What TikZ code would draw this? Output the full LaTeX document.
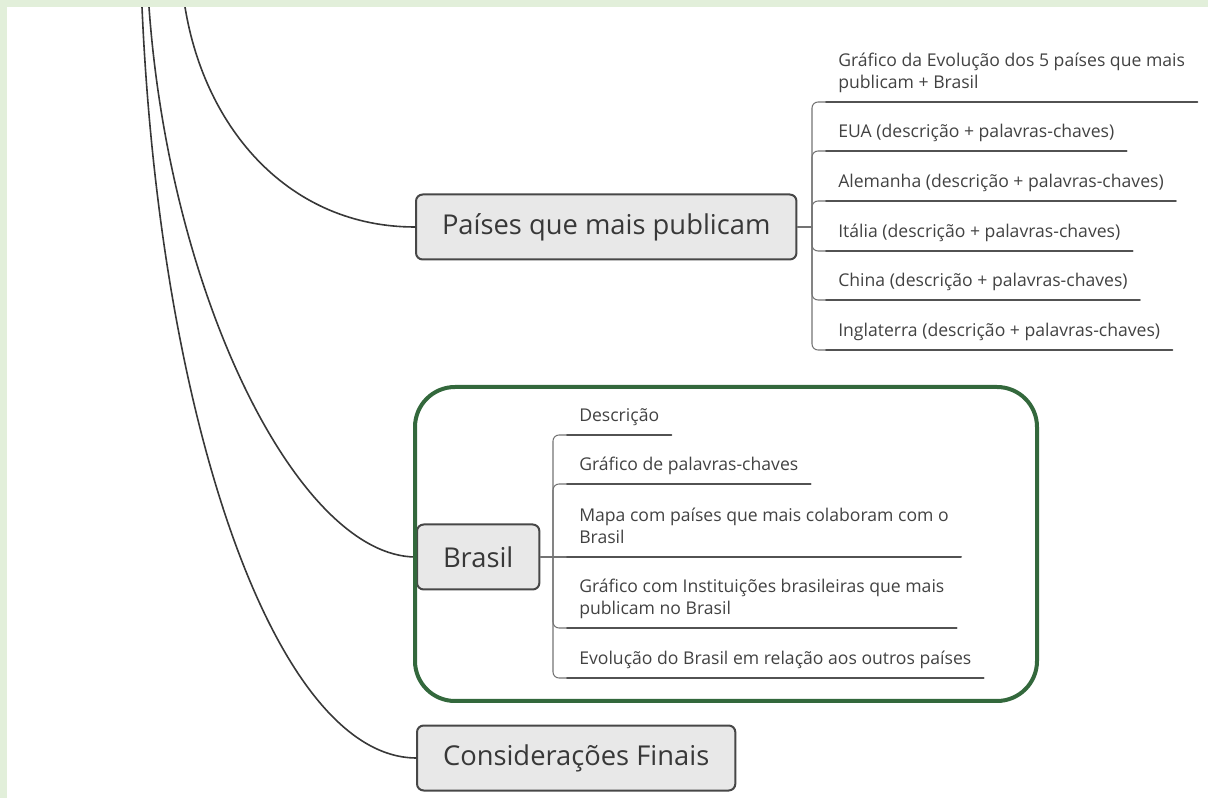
\documentclass[tikz,border=0pt]{standalone}
\usepackage{fontspec}
\setmainfont{Open Sans}
\usepackage{tikz}

\definecolor{margem}{HTML}{E2EFDA}
\definecolor{verde}{HTML}{33683C}
\definecolor{cinza}{HTML}{E8E8E8}
\definecolor{tinta}{HTML}{383838}

\begin{document}
\begin{tikzpicture}[x=0.75pt, y=-0.75pt, line cap=round]

\tikzstyle{topic}=[anchor=west, draw=black!72, line width=1.5pt, fill=cinza, rounded corners=5pt, minimum height=48.75pt, inner xsep=19.5pt, text=tinta, font=\fontsize{20.5}{24}\selectfont]
\tikzstyle{leaf}=[anchor=south west, inner xsep=9pt, inner ysep=5.2pt, align=left, text=tinta!95, font=\fontsize{13.2}{16.5}\selectfont, execute at end node=\strut]
\tikzstyle{uline}=[draw=black!68, line width=1.5pt]
\tikzstyle{link}=[draw=black!55, line width=0.8pt, rounded corners=4.5pt]
\tikzstyle{curve}=[draw=black!78, line width=1.2pt]

\useasboundingbox (0,0) rectangle (1208,798);

\draw (415,227) node[topic] (pais) {Países que mais publicam}
      (416,557) node[topic] (bras) {Brasil}
      (416,758) node[topic] (cons) {Considerações Finais};

\draw (826,102) node[leaf] (graf) {Gráfico da Evolução dos 5 países que mais\\publicam + Brasil}
      (826,151) node[leaf] (eua)  {EUA (descrição + palavras-chaves)}
      (826,201) node[leaf] (alem) {Alemanha (descrição + palavras-chaves)}
      (826,251) node[leaf] (ital) {Itália (descrição + palavras-chaves)}
      (826,300) node[leaf] (chin) {China (descrição + palavras-chaves)}
      (826,350) node[leaf] (ingl) {Inglaterra (descrição + palavras-chaves)};

\draw (567,435) node[leaf] (desc) {Descrição}
      (567,484) node[leaf] (gpal) {Gráfico de palavras-chaves}
      (567,557) node[leaf] (mapa) {Mapa com países que mais colaboram com o\\Brasil}
      (567,628) node[leaf] (inst) {Gráfico com Instituições brasileiras que mais\\publicam no Brasil}
      (567,678) node[leaf] (evol) {Evolução do Brasil em relação aos outros países};

\coordinate (pj) at (812,227);
\coordinate (bj) at (553,557);
\coordinate (rpai) at (185,7);
\coordinate (rbra) at (149,7);
\coordinate (rcon) at (142,7);

\draw[link] (pais.east) -- (pj);
\foreach \n in {graf,eua,alem,ital,chin,ingl}
  \draw[link] (pj) |- (\n.south west);
\draw[link] (bras.east) -- (mapa.south west);
\foreach \n in {desc,gpal,inst,evol}
  \draw[link] (bj) |- (\n.south west);
\foreach \n in {graf,eua,alem,ital,chin,ingl,desc,gpal,mapa,inst,evol}
  \draw[uline] (\n.south west) -- (\n.south east);

\draw[curve] (rpai) .. controls (205,130) and (290,227) .. (pais.west);
\draw[curve] (rbra) .. controls (170,300) and (300,557) .. (bras.west);
\draw[curve] (rcon) .. controls (160,420) and (275,757) .. (cons.west);

\draw[verde, line width=3pt, rounded corners=30pt] (415,387) rectangle (1037,701);

\fill[margem] (0,0) rectangle (1208,7);
\fill[margem] (0,0) rectangle (7,798);

\end{tikzpicture}
\end{document}
